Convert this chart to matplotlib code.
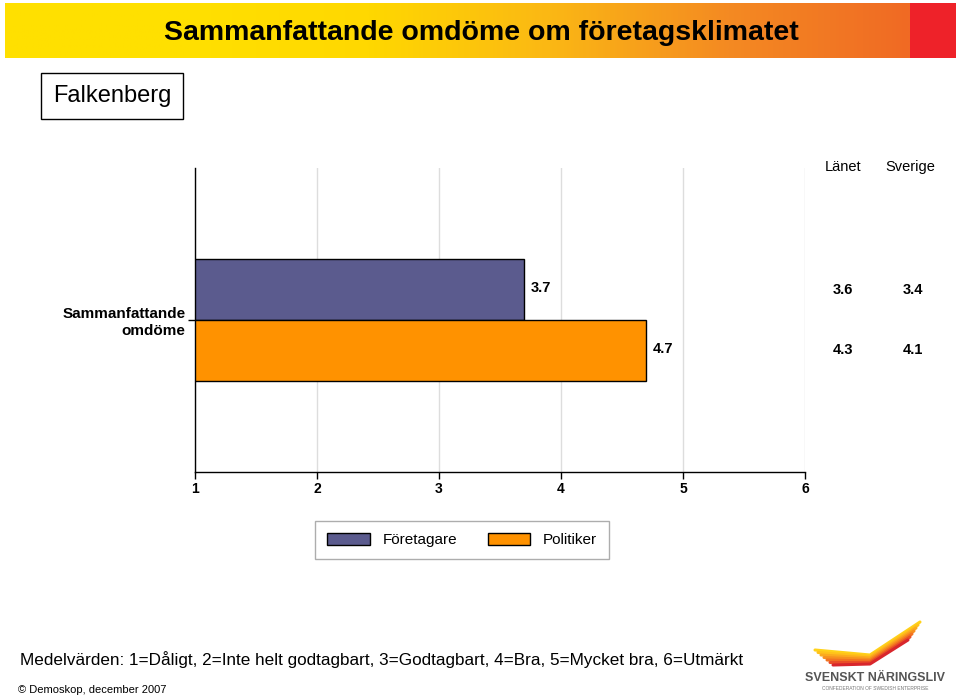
import numpy as np
import matplotlib
matplotlib.use("Agg")
import matplotlib.pyplot as plt
from matplotlib.patches import Rectangle, Patch
from matplotlib.colors import LinearSegmentedColormap

category = "Sammanfattande\nomdöme"
series = ["Företagare", "Politiker"]
values = [3.7, 4.7]
lanet = [3.6, 4.3]
sverige = [3.4, 4.1]
ticks = [1, 2, 3, 4, 5, 6]
colors = ["#5b5b8e", "#ff9200"]

NARROW = ["Liberation Sans Narrow", "Liberation Sans", "DejaVu Sans"]
SANS = ["Liberation Sans", "DejaVu Sans"]

fig = plt.figure(figsize=(9.6, 6.98), dpi=100)
W, H = 960, 698


def fx(px):
    return px / W


def fy(py):
    return 1 - py / H


# header band
band = fig.add_axes([fx(5), fy(58), fx(905), (58 - 3) / H])
cmap = LinearSegmentedColormap.from_list(
    "hdr", ["#ffe000", "#ffe000", "#ffd800", "#fbb814", "#f48a22", "#f06a24"])
grad = np.linspace(0, 1, 400)[None, :]
band.imshow(grad, aspect="auto", cmap=cmap, extent=[0, 1, 0, 1])
band.axis("off")
red = fig.add_axes([fx(910), fy(58), fx(46), (58 - 3) / H])
red.add_patch(Rectangle((0, 0), 1, 1, color="#ee2229"))
red.axis("off")
fig.text(fx(481), fy(33), "Sammanfattande omdöme om företagsklimatet",
         ha="center", va="center", fontsize=20.5, fontweight="bold",
         family=NARROW, color="black")

# municipality box
fig.text(fx(112), fy(96), "Falkenberg", ha="center", va="center", fontsize=17,
         family=SANS,
         bbox=dict(boxstyle="square,pad=0.5", fc="white", ec="black", lw=1))

# main axes
ax = fig.add_axes([fx(195), fy(472), fx(805) - fx(195), (472 - 168) / H])
ypos = [0.2, -0.2]
for i in range(len(series)):
    ax.barh(ypos[i], values[i] - 1, left=1, height=0.4, color=colors[i],
            edgecolor="black", linewidth=1, label=series[i], zorder=3)
    ax.text(values[i] + 0.05, ypos[i] + 0.01, f"{values[i]:.1f}", ha="left",
            va="center", fontsize=10.5, fontweight="bold", family=SANS)

ax.set_xlim(1, 6)
ax.set_ylim(-1, 1)
ax.set_xticks(ticks)
ax.set_xticklabels([str(t) for t in ticks], fontsize=10, fontweight="bold",
                   family=SANS)
ax.set_yticks([0])
ax.set_yticklabels([category], fontsize=11, fontweight="bold", family=SANS,
                   linespacing=1.2)
ax.tick_params(axis="x", length=5, width=1, direction="out", pad=2)
ax.tick_params(axis="y", length=5, width=1, direction="out", pad=2)
ax.grid(axis="x", color="#dddddd", linewidth=1, zorder=0)
ax.spines["top"].set_visible(False)
ax.spines["right"].set_visible(False)
ax.spines["left"].set_linewidth(1)
ax.spines["bottom"].set_linewidth(1)

# comparison columns
fig.text(fx(843), fy(167), "Länet", ha="center", va="center", fontsize=10.5, family=SANS)
fig.text(fx(910), fy(167), "Sverige", ha="center", va="center", fontsize=10.5, family=SANS)
for i in range(len(series)):
    yy = fig.transFigure.inverted().transform(ax.transData.transform((1, ypos[i])))[1]
    fig.text(fx(843), yy, f"{lanet[i]:.1f}", ha="center", va="center",
             fontsize=10.5, fontweight="bold", family=SANS)
    fig.text(fx(913), yy, f"{sverige[i]:.1f}", ha="center", va="center",
             fontsize=10.5, fontweight="bold", family=SANS)

# legend
handles = [Patch(facecolor=colors[i], edgecolor="black", label=series[i])
           for i in range(len(series))]
leg = fig.legend(handles=handles, loc="center", bbox_to_anchor=(fx(462), fy(540)),
                 ncol=2, frameon=True, fancybox=False, edgecolor="#999999",
                 prop={"family": SANS, "size": 11}, handlelength=2.8,
                 handleheight=0.8, columnspacing=2.0, borderpad=0.8)
leg.get_frame().set_linewidth(1)

# footer
fig.text(fx(20), fy(660), "Medelvärden: 1=Dåligt, 2=Inte helt godtagbart, "
         "3=Godtagbart, 4=Bra, 5=Mycket bra, 6=Utmärkt",
         ha="left", va="center", fontsize=12.3, family=NARROW)
fig.text(fx(18), fy(690), "© Demoskop, december 2007", ha="left", va="center",
         fontsize=8, family=NARROW)

# logo
logo = fig.add_axes([fx(800), fy(695), fx(150), 75 / H])
logo.set_xlim(0, 150)
logo.set_ylim(0, 75)
logo.axis("off")
wing_cols = ["#ffd21a", "#ffc21a", "#fbaa1e", "#f7901f", "#f27321", "#e94e27", "#d8262c"]
for k, c in enumerate(wing_cols):
    logo.plot([15 + k * 3, 70, 120 - k * 2], [45 - k * 2.5, 40 - k * 1.5, 73 - k * 3],
              color=c, lw=2.2, solid_capstyle="round")
logo.text(75, 17, "SVENSKT NÄRINGSLIV", ha="center", va="center", fontsize=9,
          fontweight="bold", color="#555555", family=SANS)
logo.text(75, 7, "CONFEDERATION OF SWEDISH ENTERPRISE", ha="center", va="center",
          fontsize=3.5, color="#777777", family=SANS)

fig.savefig("out.png", dpi=100)
